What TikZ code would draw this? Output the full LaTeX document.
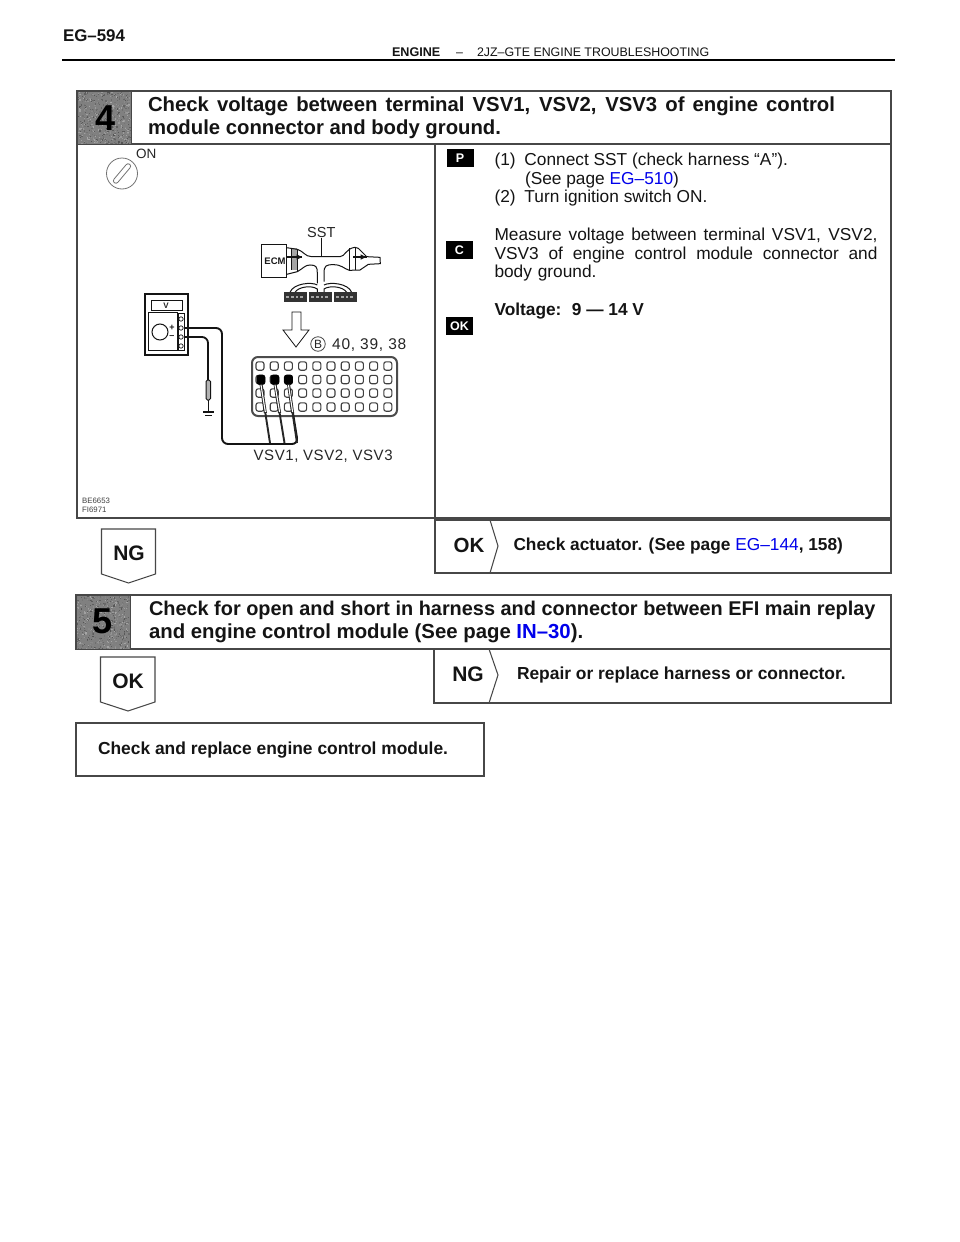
\documentclass[tikz,border=0pt]{standalone}
\usepackage{fontspec}
\setmainfont{Liberation Sans}
\definecolor{ink}{gray}{0.08}
\definecolor{frameink}{gray}{0.28}
\definecolor{linkblue}{RGB}{0,0,235}
\newcommand{\fs}[1]{\fontsize{#1}{#1}\selectfont}
\newcommand{\jline}[2]{\makebox[#1pt][s]{#2}}
\tikzset{
  x=1pt,y=-1pt,
  frame/.style={draw=frameink,line width=1.05pt,fill=white},
  txt/.style={anchor=base west,inner sep=0pt,outer sep=0pt,text=ink},
  head/.style={txt,font=\bfseries\fs{20.3}},
  headb/.style={txt,font=\bfseries\fs{19.9}},
  body/.style={txt,font=\fs{17.3}},
  bodyb/.style={txt,font=\bfseries\fs{17.4}},
  big/.style={anchor=center,inner sep=0pt,text=ink,font=\bfseries\fs{21}},
  tag/.style={anchor=center,fill=black,text=white,inner sep=0pt,font=\bfseries\fs{12.5},minimum width=27pt,minimum height=18pt},
  art/.style={draw=ink,line width=1pt},
  arttxt/.style={anchor=base west,inner sep=0pt,text=black!85,font=\fs{13.5}},
  wire/.style={draw=ink,line width=1.9pt,rounded corners=6pt},
  pin/.style={draw=black!75,line width=1.1pt,fill=white,rounded corners=2.2pt},
  pinon/.style={draw=black,line width=0.8pt,fill=black,rounded corners=2.5pt},
  arrowbox/.style={draw=frameink,line width=1.05pt,fill=white},
}
\newcommand{\speck}[3]{%
  \pgfmathsetseed{#3}%
  \foreach \ii in {1,...,650}{%
    \pgfmathsetmacro{\px}{#1+rnd*52.8}%
    \pgfmathsetmacro{\py}{#2+rnd*52.8}%
    \pgfmathsetmacro{\pc}{int(rnd*34+34)}%
    \fill[black!\pc] (\px,\py) rectangle ++(1.2,1.2);%
  }%
}
\begin{document}
\begin{tikzpicture}
\useasboundingbox (0,0) rectangle (960,1242);
\fill[white] (0,0) rectangle (960,1242);
% page header
\node[txt,font=\bfseries\fs{16.9}] (pageno) at (63,41.5) {EG–594};
\draw[black,line width=1.5pt] (62,60) -- (895,60);
\node[txt,font=\bfseries\fs{12.6}] (engine) at (392,56) {ENGINE};
\node[txt,font=\fs{12.4}] (dash) at (456,56) {–};
\node[txt,font=\fs{12.4}] (section) at (477,56) {2JZ–GTE ENGINE TROUBLESHOOTING};
% frame of step 4
\draw[frame] (77,91) rectangle (891,518);
\draw[frame] (77,144) -- (891,144);
\draw[frame] (435,144) -- (435,520);
\fill[black!50] (78,91) rectangle (131,144);
\speck{78}{91}{17}
\draw[frameink,line width=0.8pt] (77,91) rectangle (131,144);
\node[anchor=center,inner sep=0pt,font=\bfseries\fs{36},text=black] (n4) at (105.5,118) {4};
\node[head] (h4a) at (148,111) {\jline{687}{Check voltage between terminal VSV1, VSV2, VSV3 of engine control}};
\node[head] (h4b) at (148,134) {module connector and body ground.};
% tags
\node[tag] (tagP) at (460,158) {P};
\node[tag] (tagC) at (459.5,250) {C};
\node[tag] (tagOK) at (459.5,326) {OK};
% body text
\node[body] (b1) at (494.5,165) {(1)\hspace{4pt} Connect SST (check harness “A”).};
\node[body] (b2) at (525,184) {(See page \textcolor{linkblue}{EG–510})};
\node[body] (b3) at (494.5,202) {(2)\hspace{4pt} Turn ignition switch ON.};
\node[body] (b4) at (494.5,240) {\jline{383}{Measure voltage between terminal VSV1, VSV2,}};
\node[body] (b5) at (494.5,259) {\jline{383}{VSV3 of engine control module connector and}};
\node[body] (b6) at (494.5,277) {body\hspace{1pt} ground.};
\node[bodyb,font=\bfseries\fs{17.3}] (b7) at (494.5,315) {Voltage:\hspace{4pt} 9 — 14 V};
% ignition switch
\node[txt,text=black!85,font=\fs{13.5}] (on) at (136,158) {ON};
\draw[black!55,line width=0.8pt] (122,173.5) circle (15.5);
\draw[black!55,line width=0.8pt,rotate around={50:(122,173.5)},rounded corners=2.5pt] (110,171) rectangle (134,176);
% SST harness (zoomed coordinates)
\begin{scope}[shift={(240,215)},scale=1/3]
  \draw[art,line width=1pt,fill=white] (65,88) rectangle (140,188);
  \fill[black!35] (155,100) rectangle (170,165);
  \draw[art] (140,98) -- (172,103) .. controls (190,108) and (195,125) .. (215,125) -- (300,125) .. controls (315,125) and (318,100) .. (345,97) -- (355,100) -- (380,125) -- (420,127) -- (421,146) -- (385,148) -- (360,165) -- (328,166) .. controls (310,160) and (305,149) .. (280,149) .. controls (258,149) and (252,152) .. (252,175) -- (252,200);
  \draw[art] (140,178) -- (172,170) .. controls (190,160) and (195,150) .. (210,150) .. controls (228,150) and (232,155) .. (232,175) -- (232,205);
  \draw[art,line width=1.1pt] (140,126) -- (185,126);
  \fill[ink] (170,118) -- (186,126) -- (170,134) -- cycle;
  \draw[art] (155,100) -- (155,165) (172,103) -- (172,170);
  \draw[art] (328,99) -- (328,164) (345,97) -- (345,166);
  \draw[art,line width=1.1pt] (340,126) -- (380,126);
  \fill[ink] (362,118) -- (378,126) -- (362,134) -- cycle;
  \draw[art] (243,68) -- (243,125);
  \draw[art] (150,232) .. controls (160,205) and (215,200) .. (232,210);
  \draw[art] (165,232) .. controls (175,215) and (215,210) .. (232,222) -- (232,232);
  \draw[art] (335,232) .. controls (325,205) and (270,200) .. (252,210);
  \draw[art] (320,232) .. controls (310,215) and (270,210) .. (252,222) -- (252,232);
  \foreach \bx in {133,208,283}{
    \fill[black!80] (\bx,232) rectangle ++(67,30);
    \foreach \k in {0,1,2,3}{
      \fill[black!35] (\bx+6+\k*14,243) rectangle ++(8,7);
    }
  }
\end{scope}
\node[anchor=center,inner sep=0pt,text=black!90,font=\bfseries\fs{9.5}] (ecm) at (275,261) {ECM};
\node[arttxt,font=\fs{14.5}] (sst) at (307,237) {SST};
% arrow down
\draw[art,line width=0.8pt,fill=white] (292,312) -- (301,312) -- (301,330) -- (309,330) -- (296,347) -- (283,330) -- (292,330) -- cycle;
\node[draw=black!70,circle,line width=0.8pt,inner sep=0pt,minimum size=14.5pt,font=\fs{12},text=black!85] (bmark) at (318,344) {B};
\node[arttxt,font=\fs{15.5}\addfontfeatures{LetterSpace=4.7}] (pinsnum) at (332,349.5) {40, 39, 38};
% meter
\draw[art,line width=1.1pt,fill=white] (145,294) rectangle (188,355);
\draw[art] (151,300) rectangle (182,310);
\node[anchor=center,inner sep=0pt,font=\bfseries\fs{8},text=black!85] (vlab) at (166,305.5) {V};
\draw[art] (148,312) rectangle (177,350);
\draw[art] (178,313) rectangle (184,350);
\draw[art] (160,332) circle (8);
\foreach \ty in {319,328,337,346}{\draw[art,line width=0.7pt] (181,\ty) circle (2.2);}
\node[anchor=center,inner sep=0pt,font=\bfseries\fs{9},text=black!90] (plus) at (172,328) {+};
\node[anchor=center,inner sep=0pt,font=\bfseries\fs{9},text=black!90] (minus) at (172,337) {–};
% connector
\draw[draw=black!70,line width=2pt,fill=white,rounded corners=6pt] (252,357) rectangle (397,416);
\foreach \col in {0,...,9}{
  \foreach \ry in {366,379.5,393,407}{
    \pgfmathsetmacro{\cx}{260+\col*14.2}
    \path[pin] (\cx-4,\ry-4.2) rectangle (\cx+4,\ry+4.2);
  }
}
\foreach \cx in {261,275,288.5}{
  \path[pinon] (\cx-4,375) rectangle (\cx+4,384.5);
}
% wires
\draw[wire] (184,328) -- (222,328) -- (222,444) -- (298,444) -- (293,413);
\draw[wire,line width=1.8pt] (184,337) -- (208,337) -- (208,380);
\foreach \cx/\ex in {261/270,275/284.5,288.5/297}{
  \pgfmathsetmacro{\mx}{\cx+(\ex-\cx)*29/60}
  \draw[draw=black!85,line width=1.9pt] (\mx,413) -- (\ex,443);
  \draw[draw=black!85,line width=3pt] (\cx,384) -- (\mx,413);
  \draw[white,line width=1.1pt] (\cx,385) -- (\mx,412);
}
\draw[art,fill=white!70!black,rounded corners=1.5pt] (206,380) rectangle (210.5,400);
\draw[art] (208,400) -- (208,412);
\draw[art,line width=1.2pt] (203,412) -- (214,412);
\draw[art,line width=0.9pt] (205,415) -- (212,415);
\node[arttxt,font=\fs{15}\addfontfeatures{LetterSpace=3.7}] (vsv) at (253.5,460.5) {VSV1, VSV2, VSV3};
\node[anchor=base west,inner sep=0pt,text=black!75,font=\fs{7.8}] (c1) at (82,503) {BE6653};
\node[anchor=base west,inner sep=0pt,text=black!75,font=\fs{7.8}] (c2) at (82,512) {FI6971};
% OK result box
\draw[frame] (435,520) rectangle (891,573);
\draw[frame] (490,520) -- (498,546) -- (490,573);
\node[big,font=\bfseries\fs{20.5}] (ok1) at (469,545) {OK};
\node[bodyb,font=\bfseries\fs{17.3}] (r1) at (513.5,550) {Check actuator. (See page \textcolor{linkblue}{\mdseries EG–144}, 158)};
% NG arrow
\draw[arrowbox] (101.5,529) -- (155.5,529) -- (155.5,574) -- (128.5,583) -- (101.5,574) -- cycle;
\node[big] (ng1) at (129,553) {NG};
% step 5
\draw[frame] (76,595) rectangle (891,649);
\fill[black!50] (76,595) rectangle (130,649);
\speck{76}{596}{23}
\draw[frameink,line width=0.8pt] (76,595) rectangle (130,649);
\node[anchor=center,inner sep=0pt,font=\bfseries\fs{36},text=black] (n5) at (103,621) {5};
\node[headb] (h5a) at (149,615) {Check for open and short in harness and connector between EFI main replay};
\node[headb,font=\bfseries\fs{20.35}] (h5b) at (149,638) {and engine control module (See page \textcolor{linkblue}{IN–30}).};
% NG result box
\draw[frame] (434,649) rectangle (891,703);
\draw[frame] (489,649) -- (498,675) -- (489,703);
\node[big] (ng2) at (468,674) {NG};
\node[bodyb] (r2) at (517,679) {Repair or replace harness or connector.};
% OK arrow
\draw[arrowbox] (100.5,657) -- (155,657) -- (155,702) -- (128,711) -- (100.5,702) -- cycle;
\node[big] (ok2) at (128,681) {OK};
% final box
\draw[frame] (76,723) rectangle (484,776);
\node[bodyb] (r3) at (98,754) {Check and replace engine control module.};
\end{tikzpicture}
\end{document}
